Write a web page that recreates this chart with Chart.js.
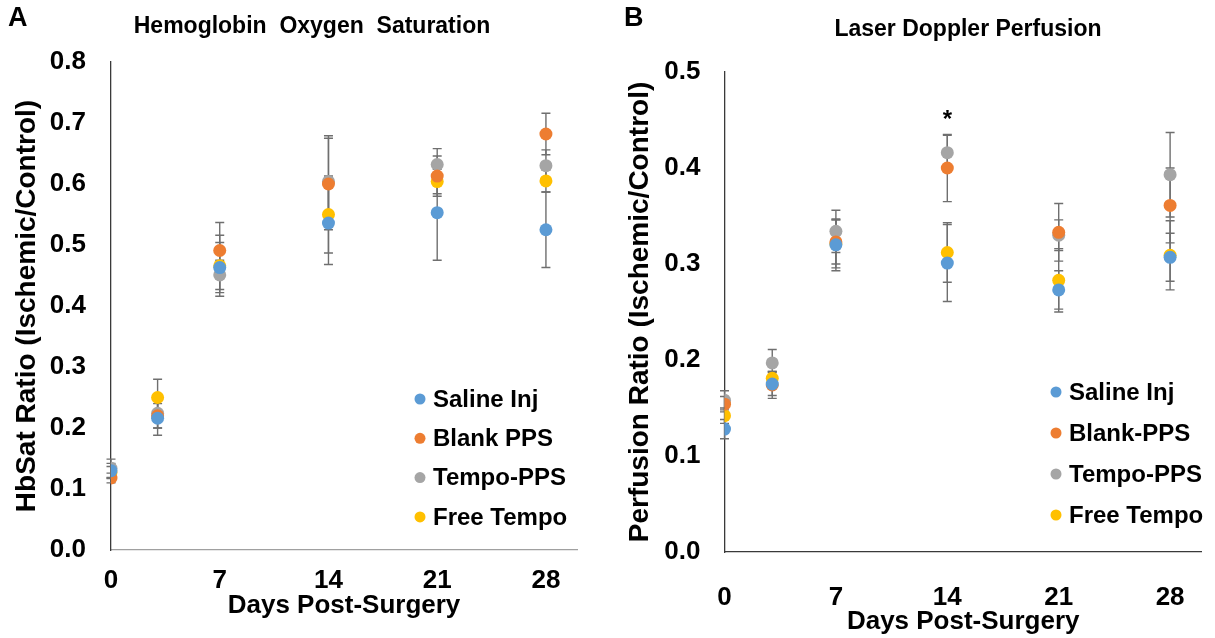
<!DOCTYPE html>
<html>
<head>
<meta charset="utf-8">
<script src="https://cdn.jsdelivr.net/npm/chart.js@4.4.1/dist/chart.umd.min.js"></script>
<style>
  html, body { margin: 0; padding: 0; background: #fff; }
  #wrap { position: relative; width: 1215px; height: 638px; }
  .panel { position: absolute; top: 0; height: 638px; }
</style>
</head>
<body>
<div id="wrap">
  <div class="panel" style="left:0;width:607px"><canvas id="chartA" width="607" height="638"></canvas></div>
  <div class="panel" style="left:607px;width:608px"><canvas id="chartB" width="608" height="638"></canvas></div>
</div>
<script>
// shared x values (days post-surgery)
const days = [0, 3, 7, 14, 21, 28];
const xTicks = [0, 7, 14, 21, 28];
const seriesNames = ['Saline Inj', 'Blank PPS', 'Tempo-PPS', 'Free Tempo'];
const seriesNamesB = ['Saline Inj', 'Blank-PPS', 'Tempo-PPS', 'Free Tempo'];
const colors = ['#5B9BD5', '#ED7D31', '#A5A5A5', '#FFC000'];

// panel A - HbSat ratio
const hbSaline = [0.130, 0.216, 0.463, 0.536, 0.553, 0.525];
const hbBlank  = [0.118, 0.220, 0.491, 0.600, 0.613, 0.682];
const hbTempo  = [0.134, 0.224, 0.451, 0.604, 0.632, 0.630];
const hbFree   = [0.127, 0.250, 0.466, 0.550, 0.604, 0.605];
const hbSalineErr = [0.012, 0.028, 0.041, 0.068, 0.078, 0.062];
const hbBlankErr  = [0.008, 0.020, 0.046, 0.075, 0.033, 0.034];
const hbTempoErr  = [0.015, 0.024, 0.024, 0.075, 0.026, 0.026];
const hbFreeErr   = [0.010, 0.030, 0.050, 0.063, 0.020, 0.018];
const hbYTicks = [0, 0.1, 0.2, 0.3, 0.4, 0.5, 0.6, 0.7, 0.8];

// panel B - laser doppler perfusion ratio
const pfSaline = [0.128, 0.175, 0.320, 0.301, 0.273, 0.307];
const pfBlank  = [0.154, 0.174, 0.323, 0.400, 0.333, 0.361];
const pfTempo  = [0.158, 0.197, 0.334, 0.416, 0.330, 0.393];
const pfFree   = [0.142, 0.181, 0.321, 0.312, 0.283, 0.309];
const pfSalineErr = [0.010, 0.012, 0.027, 0.040, 0.020, 0.025];
const pfBlankErr  = [0.008, 0.014, 0.023, 0.035, 0.030, 0.039];
const pfTempoErr  = [0.010, 0.014, 0.022, 0.018, 0.016, 0.044];
const pfFreeErr   = [0.008, 0.007, 0.025, 0.031, 0.033, 0.036];
const pfYTicks = [0, 0.1, 0.2, 0.3, 0.4, 0.5];
const pfStar = { day: 14, value: 0.455, text: '*' };

const FONT = "'Liberation Sans', Arial, sans-serif";

function toPoints(vals) {
  return days.map((d, i) => ({ x: d, y: vals[i] }));
}

function makeDatasets(names, vals, errs) {
  return names.map((n, i) => ({
    label: n,
    data: toPoints(vals[i]),
    errors: errs[i],
    backgroundColor: colors[i],
    borderColor: colors[i],
    pointRadius: 6.5,
    pointBorderWidth: 0,
    showLine: false
  }));
}

// error bars drawn from the dataset values through the chart scales
const errorBars = {
  id: 'errorBars',
  beforeDatasetsDraw(chart) {
    const { ctx, scales: { x, y } } = chart;
    ctx.save();
    ctx.strokeStyle = '#6f6f6f';
    ctx.lineWidth = 1.4;
    chart.data.datasets.forEach(ds => {
      ds.data.forEach((p, i) => {
        const e = ds.errors[i];
        const px = x.getPixelForValue(p.x);
        const top = y.getPixelForValue(p.y + e);
        const bot = y.getPixelForValue(p.y - e);
        ctx.beginPath();
        ctx.moveTo(px, top); ctx.lineTo(px, bot);
        ctx.moveTo(px - 4.5, top); ctx.lineTo(px + 4.5, top);
        ctx.moveTo(px - 4.5, bot); ctx.lineTo(px + 4.5, bot);
        ctx.stroke();
      });
    });
    ctx.restore();
  }
};

// titles, panel letters, legend inside plot, asterisk
const decorations = {
  id: 'decorations',
  afterDraw(chart, args, opts) {
    const { ctx } = chart;
    ctx.save();
    ctx.fillStyle = '#000';
    ctx.textBaseline = 'middle';
    ctx.font = 'bold 27px ' + FONT;
    ctx.textAlign = 'left';
    ctx.fillText(opts.letter, opts.letterX, 19);
    ctx.font = 'bold 23px ' + FONT;
    ctx.textAlign = 'center';
    ctx.fillText(opts.title, opts.titleX, opts.titleY);

    // legend
    ctx.font = 'bold 24px ' + FONT;
    ctx.textAlign = 'left';
    chart.data.datasets.forEach((ds, i) => {
      const ly = opts.legendY + i * opts.legendGap;
      ctx.fillStyle = ds.backgroundColor;
      ctx.beginPath();
      ctx.arc(opts.legendX, ly, 5.5, 0, Math.PI * 2);
      ctx.fill();
      ctx.fillStyle = '#000';
      ctx.fillText(ds.label, opts.legendX + 13, ly + 1);
    });

    if (opts.star) {
      const sx = chart.scales.x.getPixelForValue(opts.star.day);
      const sy = chart.scales.y.getPixelForValue(opts.star.value);
      ctx.font = 'bold 24px ' + FONT;
      ctx.textAlign = 'center';
      ctx.fillText(opts.star.text, sx, sy + 5);
    }
    ctx.restore();
  }
};

function buildChart(id, cfg) {
  const ctx = document.getElementById(id).getContext('2d');
  return new Chart(ctx, {
    type: 'scatter',
    data: { datasets: cfg.datasets },
    options: {
      responsive: false,
      animation: false,
      devicePixelRatio: 1,
      layout: { padding: { left: 0, right: cfg.padRight, top: cfg.padTop, bottom: 0 } },
      plugins: {
        legend: { display: false },
        tooltip: { enabled: false },
        decorations: cfg.deco
      },
      scales: {
        x: {
          type: 'linear',
          min: 0, max: 30,
          afterBuildTicks: s => { s.ticks = xTicks.map(v => ({ value: v })); },
          afterFit: s => { s.height = cfg.xHeight; },
          grid: { display: false, drawTicks: false },
          border: { color: cfg.xAxisColor, width: 1.3 },
          ticks: { padding: cfg.xTickPad, color: '#000', font: { family: FONT, size: 26, weight: 'bold' } },
          title: {
            display: true, text: 'Days Post-Surgery', color: '#000',
            font: { family: FONT, size: 26, weight: 'bold' },
            padding: { top: 0, bottom: cfg.xTitlePad }
          }
        },
        y: {
          min: 0, max: cfg.yMax,
          afterBuildTicks: s => { s.ticks = cfg.yTicks.map(v => ({ value: v })); },
          afterFit: s => { s.width = cfg.yWidth; },
          grid: { display: false, drawTicks: false },
          border: { color: '#3a3a3a', width: 1.3 },
          ticks: {
            padding: cfg.yTickPad, color: '#000',
            font: { family: FONT, size: 26, weight: 'bold' },
            callback: v => v.toFixed(1)
          },
          title: {
            display: true, text: cfg.yTitle, color: '#000',
            font: { family: FONT, size: 28, weight: 'bold' },
            padding: { top: cfg.yTitlePad, bottom: 0 }
          }
        }
      }
    },
    plugins: [errorBars, decorations]
  });
}

buildChart('chartA', {
  datasets: makeDatasets(seriesNames, [hbSaline, hbBlank, hbTempo, hbFree],
    [hbSalineErr, hbBlankErr, hbTempoErr, hbFreeErr]),
  padRight: 30, padTop: 62, xHeight: 88, yWidth: 111,
  xTickPad: 15, xTitlePad: 17, yTickPad: 25, yTitlePad: 10,
  xAxisColor: '#a0a0a0', yMax: 0.8, yTicks: hbYTicks,
  yTitle: 'HbSat Ratio (Ischemic/Control)',
  deco: { letter: 'A', letterX: 8, title: 'Hemoglobin  Oxygen  Saturation', titleX: 312, titleY: 27,
          legendX: 420, legendY: 399, legendGap: 39.3 }
});

buildChart('chartB', {
  datasets: makeDatasets(seriesNamesB, [pfSaline, pfBlank, pfTempo, pfFree],
    [pfSalineErr, pfBlankErr, pfTempoErr, pfFreeErr]),
  padRight: 3, padTop: 72, xHeight: 86, yWidth: 117.5,
  xTickPad: 30, xTitlePad: 1, yTickPad: 24, yTitlePad: 16,
  xAxisColor: '#3a3a3a', yMax: 0.5, yTicks: pfYTicks,
  yTitle: 'Perfusion Ratio (Ischemic/Control)',
  deco: { letter: 'B', letterX: 17, title: 'Laser Doppler Perfusion', titleX: 361, titleY: 30,
          legendX: 449, legendY: 392, legendGap: 41, star: pfStar }
});
</script>
</body>
</html>
